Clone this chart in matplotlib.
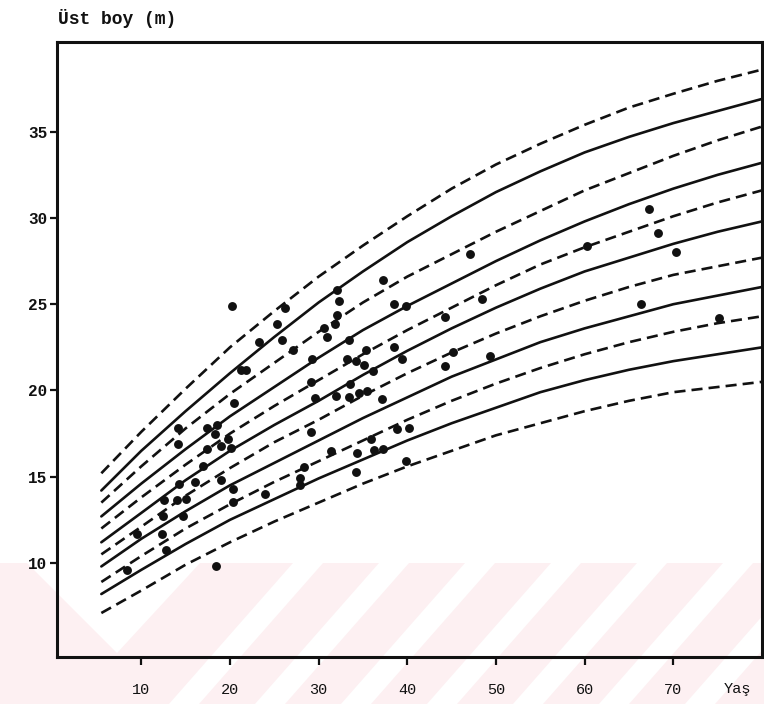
import matplotlib
matplotlib.use("Agg")
import matplotlib.pyplot as plt
from matplotlib.patches import Polygon

# Ages at which the site-index curves are tabulated (years)
curve_ages = [5.5, 10, 15, 20, 25, 30, 35, 40, 45, 50, 55, 60, 65, 70, 75, 80]

# Top-height curves (m), from the highest to the lowest class
curve_01 = [15.2, 17.6, 20.1, 22.5, 24.6, 26.6, 28.4, 30.1, 31.7, 33.1, 34.3, 35.4, 36.4, 37.2, 37.95, 38.6]
curve_02 = [14.2, 16.5, 18.8, 21.0, 23.1, 25.1, 26.9, 28.6, 30.1, 31.5, 32.7, 33.8, 34.7, 35.5, 36.2, 36.9]
curve_03 = [13.5, 15.6, 17.8, 19.8, 21.6, 23.4, 25.1, 26.6, 27.9, 29.2, 30.4, 31.6, 32.6, 33.6, 34.5, 35.3]
curve_04 = [12.7, 14.6, 16.6, 18.5, 20.2, 21.9, 23.5, 24.9, 26.2, 27.5, 28.7, 29.8, 30.8, 31.7, 32.5, 33.2]
curve_05 = [12.0, 13.8, 15.7, 17.5, 19.1, 20.6, 22.1, 23.5, 24.8, 26.1, 27.3, 28.3, 29.2, 30.1, 30.9, 31.6]
curve_06 = [11.2, 12.9, 14.8, 16.5, 18.0, 19.4, 20.9, 22.3, 23.6, 24.8, 25.9, 26.9, 27.7, 28.5, 29.2, 29.8]
curve_07 = [10.5, 12.1, 13.9, 15.5, 17.0, 18.3, 19.7, 21.0, 22.2, 23.3, 24.3, 25.2, 26.0, 26.7, 27.2, 27.7]
curve_08 = [9.8, 11.4, 13.0, 14.5, 15.8, 17.1, 18.4, 19.6, 20.8, 21.8, 22.8, 23.6, 24.3, 25.0, 25.5, 26.0]
curve_09 = [8.9, 10.4, 12.0, 13.4, 14.7, 15.9, 17.1, 18.3, 19.4, 20.4, 21.3, 22.1, 22.8, 23.4, 23.9, 24.3]
curve_10 = [8.2, 9.6, 11.1, 12.5, 13.7, 14.9, 16.0, 17.1, 18.1, 19.0, 19.9, 20.6, 21.2, 21.7, 22.1, 22.5]
curve_11 = [7.1, 8.4, 9.9, 11.2, 12.4, 13.5, 14.6, 15.6, 16.5, 17.4, 18.1, 18.8, 19.4, 19.9, 20.2, 20.5]
curves = [curve_01, curve_02, curve_03, curve_04, curve_05, curve_06,
          curve_07, curve_08, curve_09, curve_10, curve_11]

# Sample plots: stand age (years) and measured top height (m)
plot_age = [20.2, 26.2, 25.3, 23.3, 25.9, 27.1, 32.1, 32.3, 32.1, 31.8, 30.6, 30.9,
            29.2, 21.3, 21.8, 29.1, 20.5, 32.0, 29.6, 14.2, 14.2, 17.4, 18.5, 18.3,
            19.8, 17.4, 19.0, 20.1, 17.0, 29.1, 31.4, 28.3,
            47.1, 37.3, 38.5, 39.9, 48.4, 44.2, 33.4, 35.3, 38.5, 39.4, 33.2, 34.2,
            35.1, 36.1, 45.2, 44.3, 49.3, 33.5, 33.4, 34.6, 35.5, 37.2, 38.8, 40.2,
            35.9, 34.3, 36.2, 37.3, 39.9,
            67.3, 68.3, 70.3, 60.3, 66.4, 75.2,
            14.3, 16.1, 19.0, 20.3, 20.3, 14.0, 15.1, 12.6, 12.5, 14.7, 9.5, 12.3,
            12.8, 8.4, 18.4,
            27.9, 27.9, 24.0, 34.2]
plot_height = [24.9, 24.8, 23.85, 22.8, 22.9, 22.35, 25.8, 25.2, 24.4, 23.85, 23.6, 23.1,
               21.8, 21.2, 21.2, 20.5, 19.3, 19.7, 19.55, 17.8, 16.9, 17.8, 18.0, 17.5,
               17.2, 16.6, 16.8, 16.65, 15.6, 17.6, 16.5, 15.55,
               27.9, 26.4, 25.0, 24.9, 25.3, 24.25, 22.9, 22.35, 22.5, 21.8, 21.8, 21.7,
               21.5, 21.1, 22.25, 21.4, 22.0, 20.4, 19.65, 19.85, 19.98, 19.5, 17.75, 17.85,
               17.2, 16.4, 16.55, 16.6, 15.9,
               30.5, 29.1, 28.0, 28.4, 25.0, 24.2,
               14.6, 14.7, 14.8, 14.3, 13.55, 13.65, 13.7, 13.65, 12.7, 12.7, 11.7, 11.7,
               10.75, 9.6, 9.8,
               14.9, 14.5, 14.0, 15.3]

x_ticks = [10, 20, 30, 40, 50, 60, 70]
y_ticks = [10, 15, 20, 25, 30, 35]

W, H = 764, 704
fig = plt.figure(figsize=(W / 100, H / 100), dpi=100)
fig.patch.set_facecolor("white")


def band(points, color):
    """Filled polygon given in figure pixels measured from the top-left corner."""
    poly = Polygon([(x / W, 1 - y / H) for x, y in points], closed=True,
                   transform=fig.transFigure, facecolor=color, edgecolor="none",
                   zorder=-5)
    fig.add_artist(poly)


# Pale pink stamp with diagonal stripes along the lower part of the sheet
pink = "#fdf0f2"
band([(0, 563), (W, 563), (W, H), (0, H)], pink)
band([(27, 563), (200, 563), (117, 653)], "white")
for c0 in [308, 394, 480, 566, 652, 738, 824]:
    band([(c0 - 15, 563), (c0 + 15, 563), (c0 + 15 - 124, H), (c0 - 15 - 124, H)], "white")

ax = fig.add_axes([57 / W, 1 - 657 / H, (762 - 57) / W, (657 - 42) / H])
ax.set_facecolor("none")

ink = "#111111"
for i, c in enumerate(curves):
    style = (0, (4.2, 2.3)) if i % 2 == 0 else "-"
    ax.plot(curve_ages, c, color=ink, lw=1.9, ls=style, solid_capstyle="round",
            dash_capstyle="butt")

ax.plot(plot_age, plot_height, "o", color=ink, ms=6.4, mec=ink, mew=0)

ax.set_xlim(0.5, 80)
ax.set_ylim(4.55, 40.2)

ax.set_xticks(x_ticks)
ax.set_xticklabels([str(v) for v in x_ticks], fontfamily="Liberation Mono",
                   fontsize=11)
ax.set_yticks(y_ticks)
ax.set_yticklabels([str(v) for v in y_ticks], fontfamily="Liberation Mono",
                   fontsize=11.5, fontweight="bold")
ax.tick_params(axis="x", direction="out", length=6, width=1.6, pad=13, colors=ink)
ax.tick_params(axis="y", direction="out", length=5, width=1.6, pad=2, colors=ink)
for s in ax.spines.values():
    s.set_linewidth(2.2)
    s.set_color(ink)

fig.text(737 / W, 1 - 689 / H, "Yaş", ha="center", va="center",
         fontfamily="Liberation Mono", fontsize=11, color=ink)
fig.text(58 / W, 1 - 18 / H, "Üst boy (m)", ha="left", va="center",
         fontfamily="Liberation Mono", fontsize=13, fontweight="bold", color=ink)

fig.savefig("out.png", dpi=100, facecolor="white")
